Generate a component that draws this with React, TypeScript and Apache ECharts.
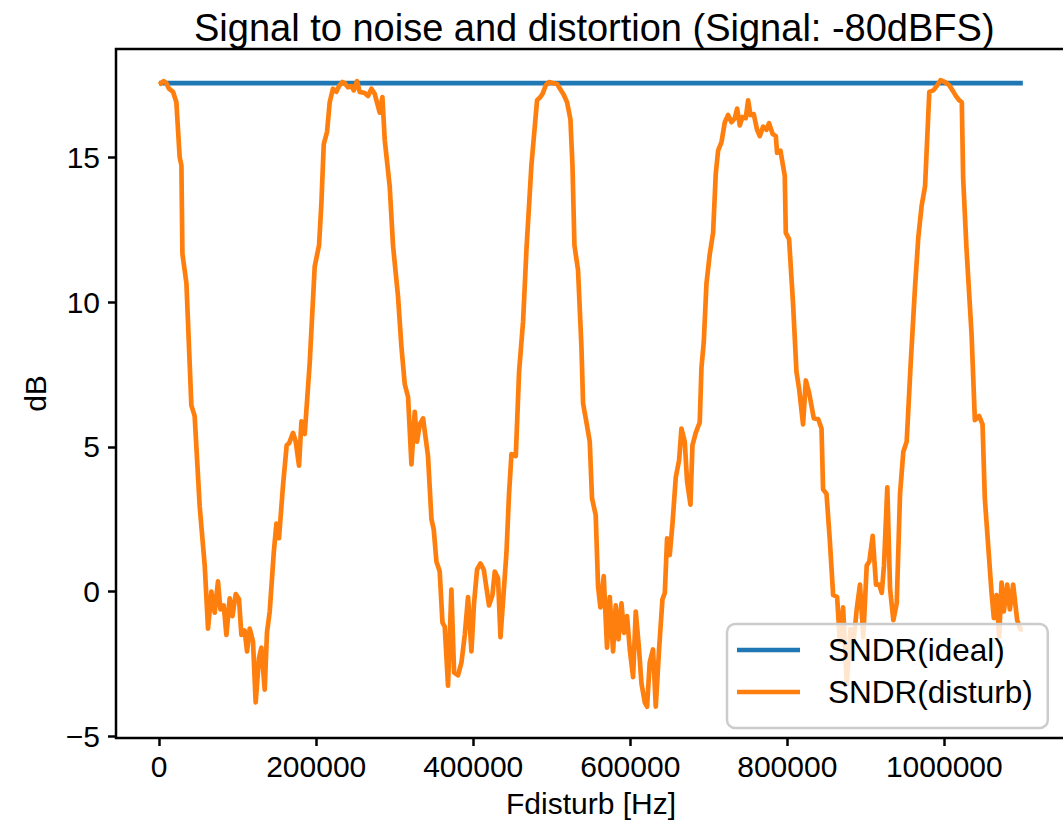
import React, { useEffect, useRef } from "react";
import * as echarts from "echarts";

const titleText = "Signal to noise and distortion (Signal: -80dBFS)";
const xName = "Fdisturb [Hz]";
const yName = "dB";
const seriesNames = ["SNDR(ideal)", "SNDR(disturb)"];

const xTicks = [0, 200000, 400000, 600000, 800000, 1000000];
const yTicks = [-5, 0, 5, 10, 15];

const idealFreq = [0, 1100000];
const idealLevel = 17.56;

const freqHz = [
  0, 5700, 9200, 12500, 17600, 21900, 26100, 28300, 29600, 34700,
  41000, 45200, 51600, 58000, 62200, 66500, 70700, 74900, 78000, 82200,
  85600, 89800, 93300, 97500, 101700, 104700, 108900, 111900, 115300, 119500,
  122900, 127100, 130200, 134400, 137300, 140800, 145900, 149300, 152600, 157700,
  162400, 165400, 170500, 173900, 178100, 181200, 185400, 191700, 198100, 203600,
  206600, 209600, 213800, 217200, 221400, 225700, 229100, 233400, 236300, 240500,
  244900, 247800, 252000, 255400, 261800, 266000, 270300, 274500, 280900, 284300,
  287300, 293600, 297800, 304200, 308500, 312800, 317000, 321300, 325500, 328400,
  331900, 336100, 342400, 346800, 349700, 353100, 357300, 360800, 363700, 367900,
  372200, 375600, 380700, 385000, 389200, 393400, 397700, 401000, 404900, 409200,
  413400, 420100, 424500, 427400, 431600, 434700, 442300, 445600, 448700, 454200,
  458400, 463500, 467800, 474100, 481300, 485600, 488500, 492400, 496600, 501700,
  506800, 511100, 515300, 519500, 523800, 526400, 528900, 533500, 537800, 539900,
  544200, 548400, 551300, 556000, 559000, 562000, 566200, 570400, 573900, 578100,
  581500, 585000, 588800, 592100, 595900, 599400, 603600, 607000, 611200, 614300,
  618500, 621400, 624800, 629000, 632500, 636700, 641000, 644000, 646900, 650300,
  653800, 658000, 662200, 665200, 669400, 672400, 676700, 679200, 683400, 688500,
  690700, 693600, 697100, 701300, 705500, 708900, 711900, 716200, 720400, 724600,
  728900, 733100, 736100, 739500, 742900, 747100, 750100, 753100, 757300, 761500,
  765000, 769200, 773500, 776800, 781200, 785400, 787000, 791300, 796800, 798100,
  802300, 807400, 811700, 815000, 820100, 823600, 827800, 833800, 839300, 843600,
  845600, 850000, 854200, 858400, 863500, 866900, 871100, 875800, 880500, 884500,
  888500, 892600, 896800, 901200, 904500, 908800, 913000, 917200, 920300, 923200,
  927400, 930900, 935100, 939400, 943600, 947800, 952100, 957200, 962700, 966900,
  971200, 975500, 980900, 986000, 990400, 995200, 1000700, 1006200, 1010500, 1014700,
  1018900, 1022300, 1024000, 1028300, 1034700, 1038900, 1044400, 1048700, 1051600, 1055800,
  1060200, 1063100, 1066500, 1069900, 1072900, 1075800, 1080100, 1083500, 1087700, 1092800,
  1097100, 1100000,
];

const sndrDisturb = [
  17.51, 17.63, 17.56, 17.37, 17.26, 16.9, 15.0, 14.72, 11.66, 10.65,
  6.43, 6.06, 2.94, 0.9, -1.28, 0.0, -0.73, 0.35, -0.62, -0.48,
  -1.5, -0.24, -0.85, -0.09, -0.27, -1.5, -1.35, -2.07, -1.28, -1.73,
  -3.83, -2.3, -1.94, -3.39, -1.42, -0.69, 1.33, 2.35, 1.84, 3.66,
  5.05, 5.12, 5.48, 5.18, 4.35, 5.88, 5.44, 7.88, 11.23, 11.96,
  13.41, 15.45, 15.88, 16.9, 17.37, 17.26, 17.46, 17.6, 17.56, 17.42,
  17.46, 17.31, 17.63, 17.26, 17.22, 17.12, 17.37, 17.19, 16.54, 17.08,
  15.59, 14.0, 11.96, 10.2, 8.47, 7.16, 6.72, 4.39, 6.21, 5.18,
  5.77, 5.98, 4.68, 2.5, 2.14, 1.04, 0.69, -1.07, -1.21, -3.25,
  0.07, -2.8, -2.89, -2.45, -1.5, -0.19, -2.07, -0.41, 0.76, 0.97,
  0.76, -0.48, -0.12, 0.69, 0.46, -1.58, 1.33, 3.37, 4.75, 4.68,
  7.59, 9.33, 11.82, 14.72, 16.97, 17.08, 17.2, 17.49, 17.6, 17.56,
  17.53, 17.34, 17.16, 16.9, 16.31, 14.72, 11.96, 11.1, 8.47, 6.5,
  5.84, 5.18, 3.22, 2.64, 0.17, -0.55, 0.53, -1.94, -0.19, -2.07,
  -0.48, -1.65, -0.41, -1.43, -0.85, -2.0, -2.96, -0.69, -2.0, -3.18,
  -3.83, -3.98, -2.45, -2.0, -3.98, -2.0, -0.27, -0.05, 1.84, 1.26,
  2.35, 3.95, 4.53, 5.63, 5.18, 3.8, 3.0, 5.05, 5.48, 5.84,
  7.74, 8.6, 10.65, 11.66, 12.39, 14.43, 15.23, 15.52, 16.21, 16.46,
  16.21, 16.35, 16.68, 16.1, 16.39, 16.35, 16.97, 16.46, 16.49, 15.95,
  15.73, 16.06, 15.95, 16.18, 15.81, 15.73, 15.15, 15.23, 14.36, 12.39,
  12.17, 9.92, 7.59, 7.02, 5.77, 7.29, 6.86, 5.98, 5.96, 5.63,
  3.53, 3.37, 1.76, -0.12, -0.19, -1.73, -0.55, -3.2, -1.3, -1.7,
  -0.6, 0.24, -1.58, 0.9, 1.04, 1.92, 0.24, 0.24, -0.05, 0.9,
  3.6, 0.1, -0.99, -0.41, 3.37, 4.83, 5.18, 7.88, 10.51, 12.24,
  13.34, 14.0, 17.26, 17.31, 17.46, 17.66, 17.6, 17.49, 17.31, 17.12,
  16.97, 16.9, 14.28, 11.82, 8.9, 5.92, 6.06, 5.77, 3.22, 1.62,
  -0.05, -0.92, -0.12, -1.58, 0.31, -0.69, 0.24, -0.62, 0.24, -0.99,
  -1.31, -1.3,
];

const FONT = "'Liberation Sans', Arial, Helvetica, sans-serif";
const minus = (v: number) => String(v).replace("-", "\u2212");

export default function App() {
  const ref = useRef<HTMLDivElement | null>(null);

  useEffect(() => {
    if (!ref.current) return;
    const chart = echarts.init(ref.current, undefined, { renderer: "svg" });

    const yMin = -5.06;
    const yMax = 18.74;

    const option: any = {
      animation: false,
      backgroundColor: "#ffffff",
      title: {
        text: titleText,
        left: 189,
        top: 4,
        textStyle: {
          fontFamily: FONT,
          fontSize: 38,
          fontWeight: "normal",
          color: "#000",
        },
      },
      grid: {
        left: 116,
        top: 49,
        right: -3,
        bottom: 87,
        show: true,
        borderColor: "#000",
        borderWidth: 2.5,
        backgroundColor: "transparent",
        containLabel: false,
        outerBoundsMode: "none",
      },
      legend: {
        orient: "vertical",
        left: 727,
        top: 624,
        data: seriesNames,
        icon: "rect",
        itemWidth: 63,
        itemHeight: 4.7,
        itemGap: 10,
        textStyle: {
          fontFamily: FONT,
          fontSize: 31.5,
          lineHeight: 32,
          color: "#000",
          padding: [0, 0, 0, 23],
        },
        backgroundColor: "rgba(255,255,255,0.8)",
        borderColor: "#cccccc",
        borderWidth: 2.5,
        borderRadius: 8,
        padding: [10, 15, 20, 10],
      },
      xAxis: {
        type: "value",
        min: -55000,
        max: 1155000,
        name: xName,
        nameLocation: "middle",
        nameGap: 50,
        nameTextStyle: { fontFamily: FONT, fontSize: 30, color: "#000" },
        axisLine: { show: false, onZero: false },
        axisTick: {
          show: true,
          customValues: xTicks,
          length: 8,
          lineStyle: { color: "#000", width: 2.5 },
        },
        axisLabel: {
          customValues: xTicks,
          fontFamily: FONT,
          fontSize: 30,
          color: "#000",
          margin: 13,
          formatter: (v: number) => minus(v),
        },
        splitLine: { show: false },
      },
      yAxis: {
        type: "value",
        min: yMin,
        max: yMax,
        name: yName,
        nameLocation: "middle",
        nameGap: 66,
        nameTextStyle: { fontFamily: FONT, fontSize: 30, color: "#000" },
        axisLine: { show: false, onZero: false },
        axisTick: {
          show: true,
          customValues: yTicks,
          length: 8,
          lineStyle: { color: "#000", width: 2.5 },
        },
        axisLabel: {
          customValues: yTicks,
          fontFamily: FONT,
          fontSize: 30,
          color: "#000",
          margin: 16,
          formatter: (v: number) => minus(v),
        },
        splitLine: { show: false },
      },
      series: [
        {
          name: seriesNames[0],
          type: "line",
          data: idealFreq.map((f) => [f, idealLevel]),
          symbol: "none",
          showSymbol: false,
          lineStyle: { color: "#1f77b4", width: 4.7 },
          itemStyle: { color: "#1f77b4" },
        },
        {
          name: seriesNames[1],
          type: "line",
          data: freqHz.map((f, i) => [f, sndrDisturb[i]]),
          symbol: "none",
          showSymbol: false,
          lineStyle: { color: "#ff7f0e", width: 4.7, join: "round" },
          itemStyle: { color: "#ff7f0e" },
        },
      ],
    };

    chart.setOption(option);
    return () => {
      chart.dispose();
    };
  }, []);

  return (
    <div
      ref={ref}
      style={{
        position: "fixed",
        left: 0,
        top: 0,
        width: 1063,
        height: 825,
        background: "#fff",
      }}
    />
  );
}
